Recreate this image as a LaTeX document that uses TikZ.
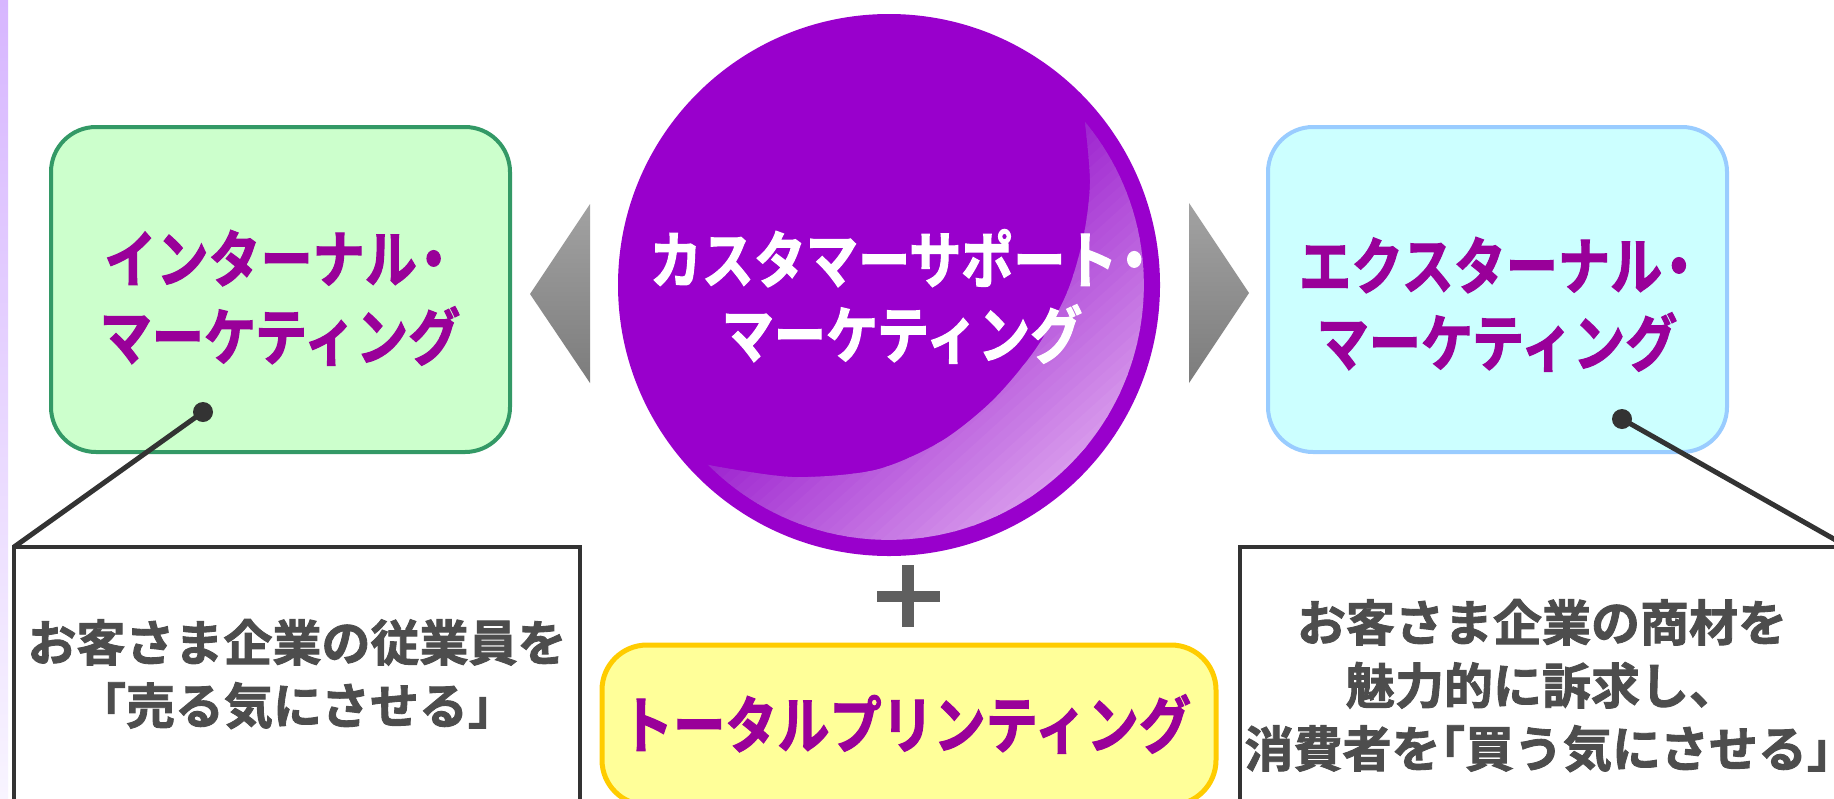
\documentclass[tikz,border=0pt]{standalone}
\usepackage{fontspec}
\newfontfamily\jpt{Noto Sans CJK JP Bold}[FakeStretch=0.84,FakeBold=1.8]
\newfontfamily\jpn{Noto Sans CJK JP Bold}[FakeBold=1.8]
\definecolor{gborder}{HTML}{339966}
\definecolor{gfill}{HTML}{CCFFCC}
\definecolor{cborder}{HTML}{99CCFF}
\definecolor{cfill}{HTML}{CCFFFF}
\definecolor{yborder}{HTML}{FFCC00}
\definecolor{yfill}{HTML}{FFFF99}
\definecolor{tpurple}{HTML}{990099}
\definecolor{cpurple}{HTML}{9900CC}
\definecolor{hlA}{HTML}{9B1FCE}
\definecolor{hlB}{HTML}{D89BEC}
\definecolor{darkline}{HTML}{333333}
\definecolor{txtgray}{HTML}{4D4D4D}
\definecolor{plusgray}{HTML}{5F5F5F}
\definecolor{triA}{HTML}{A2A2A2}
\definecolor{triB}{HTML}{7C7C7C}
\definecolor{stripA}{HTML}{D7B6FF}
\definecolor{stripB}{HTML}{F8F4FF}
\newcommand{\jdot}{\kern-0.15em・}
\begin{document}
\begin{tikzpicture}[x=0.5pt,y=-0.5pt,
  rbox/.style={rectangle, rounded corners=22.5pt, line width=2pt, outer sep=0pt, inner sep=0pt},
  callout/.style={rectangle, draw=darkline, fill=white, line width=2.4pt, outer sep=0pt, inner sep=0pt},
  ttl/.style={anchor=base, inner sep=0pt, font=\jpt\fontsize{31pt}{31pt}\selectfont},
  ctxt/.style={anchor=base, inner sep=0pt, text=txtgray, font=\jpn\fontsize{24.5pt}{24.5pt}\selectfont},
  dot/.style={circle, fill=darkline, minimum size=10pt, inner sep=0pt, outer sep=0pt},
  conn/.style={draw=darkline, line width=2.5pt}]
\useasboundingbox (0,0) rectangle (1834,798);
\fill[white] (0,0) rectangle (1834,798);
% left strip
\shade[top color=stripA, bottom color=stripB] (0,0) rectangle (8,798);

% side boxes
\node[rbox, draw=gborder, fill=gfill, minimum width=229.5pt, minimum height=162.5pt] (gbox) at (280.5,289.5) {};
\node[rbox, draw=cborder, fill=cfill, minimum width=229.5pt, minimum height=162.5pt] (cbox) at (1497.5,289.5) {};

% triangles
\shade[top color=triA, bottom color=triB] (530,294) -- (590,204) -- (590,383) -- cycle;
\shade[top color=triA, bottom color=triB] (1249,293) -- (1189,203) -- (1189,383) -- cycle;

% central circle
\node[circle, fill=cpurple, minimum size=271pt, inner sep=0pt] (circ) at (889,285) {};
\begin{scope}
  \clip plot[smooth] coordinates {(708,465) (792,477) (875,470) (940,442) (992,401) (1035,350) (1066,295) (1083,239) (1090,183) (1085,122)}
     arc[start angle=-39.7, end angle=135.2, radius=255] -- cycle;
  \fill[hlA] (600,0) rectangle (1200,600);
  \foreach \k in {0,...,30}{
    \pgfmathsetmacro\ca{805+8.5*\k}
    \pgfmathsetmacro\cb{\ca+9.5}
    \pgfmathtruncatemacro\p{100*\k/30}
    \fill[hlB!\p!hlA] ({\ca*0.671+741},{\ca*0.741-671}) -- ({\ca*0.671-741},{\ca*0.741+671}) -- ({\cb*0.671-741},{\cb*0.741+671}) -- ({\cb*0.671+741},{\cb*0.741-671}) -- cycle;
  }
  \fill[hlB] ({1065*0.671+741},{1065*0.741-671}) -- ({1065*0.671-741},{1065*0.741+671}) -- ({1600*0.671-741},{1600*0.741+671}) -- ({1600*0.671+741},{1600*0.741-671}) -- cycle;
\end{scope}

% titles
\node[ttl, text=tpurple] (g1) at (282,282) {インターナル\jdot};
\node[ttl, text=tpurple] (g2) at (280,360) {マーケティング};
\node[ttl, text=white] (m1) at (905,283) {カスタマーサポート\jdot};
\node[ttl, text=white] (m2) at (902,358) {マーケティング};
\node[ttl, text=tpurple] (e1) at (1502,289) {エクスターナル\jdot};
\node[ttl, text=tpurple] (e2) at (1497,366) {マーケティング};

% plus sign
\fill[plusgray] (877,591) rectangle (940,602);
\fill[plusgray] (902,565) rectangle (914,627);

% total printing box
\node[rbox, draw=yborder, fill=yfill, line width=2.5pt, minimum width=307pt, minimum height=80pt] (ybox) at (909,725) {};
\node[ttl, text=tpurple] (y1) at (906,748) {トータルプリンティング};

% callout boxes
\node[callout, minimum width=283pt, minimum height=150pt] (lbox) at (297,697) {};
\node[callout, minimum width=304pt, minimum height=150pt] (rbox) at (1544,697) {};

% dots and connectors
\node[dot] (ldot) at (203,412) {};
\node[dot] (rdot) at (1622,419) {};
\draw[conn] (ldot.center) -- (lbox.north west);
\draw[conn] (rdot.center) -- (rbox.north east);

% callout texts
\node[ctxt] (l1) at (297,661) {お客さま企業の従業員を};
\node[ctxt] (l2) at (297,724) {「売る気にさせる」};
\node[ctxt] (r1) at (1542,641) {お客さま企業の商材を};
\node[ctxt] (r2) at (1542,704) {魅力的に訴求し、};
\node[ctxt] (r3) at (1538,767) {消費者を\kern-0.5em「買う気にさせる」\kern-0.5em};
\end{tikzpicture}
\end{document}
